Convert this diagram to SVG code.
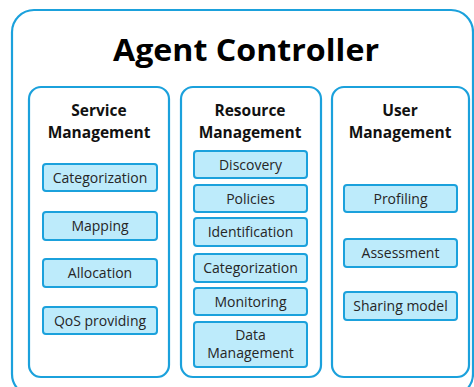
<svg xmlns="http://www.w3.org/2000/svg" width="474" height="387" viewBox="0 0 474 387">
<style>
.outer{fill:#fff;stroke:#1ba1dc;stroke-width:2.2}
.panel{fill:#fff;stroke:#1ba1dc;stroke-width:2.2}
.item{fill:#bdebfb;stroke:#1ba1dc;stroke-width:2}
.title{font-family:"Open Sans","Liberation Sans",sans-serif;font-weight:bold;font-size:31px;fill:#000;text-anchor:middle}
.ptitle{font-family:"Open Sans","Liberation Sans",sans-serif;font-weight:bold;font-size:15.5px;fill:#111;text-anchor:middle}
.label{font-family:"Open Sans","Liberation Sans",sans-serif;font-size:14px;fill:#262626;text-anchor:middle}
</style>
<rect width="474" height="387" fill="#fff"/>
<g id="agent-controller">
<rect class="outer" x="12" y="10" width="461" height="386" rx="22"/>
<text class="title" x="246" y="61" textLength="266" lengthAdjust="spacingAndGlyphs">Agent Controller</text>
</g>
<g id="service-management">
<rect class="panel" x="29" y="87" width="140" height="290" rx="12"/>
<text class="ptitle" x="99" y="116">Service</text>
<text class="ptitle" x="99" y="138">Management</text>
</g>
<g id="sm-categorization"><rect class="item" x="43" y="164" width="114" height="27" rx="3"/><text class="label" x="100" y="182.5">Categorization</text></g>
<g id="sm-mapping"><rect class="item" x="43" y="212" width="114" height="28" rx="3"/><text class="label" x="100" y="231">Mapping</text></g>
<g id="sm-allocation"><rect class="item" x="43" y="259" width="114" height="28" rx="3"/><text class="label" x="100" y="278">Allocation</text></g>
<g id="sm-qos"><rect class="item" x="43" y="307" width="114" height="27" rx="3"/><text class="label" x="100" y="325.5">QoS providing</text></g>
<g id="resource-management">
<rect class="panel" x="181" y="87" width="140" height="290" rx="12"/>
<text class="ptitle" x="250" y="116">Resource</text>
<text class="ptitle" x="250" y="138">Management</text>
</g>
<g id="rm-discovery"><rect class="item" x="194" y="151" width="113" height="27" rx="3"/><text class="label" x="250.5" y="169.5">Discovery</text></g>
<g id="rm-policies"><rect class="item" x="194" y="185" width="113" height="27" rx="3"/><text class="label" x="250.5" y="203.5">Policies</text></g>
<g id="rm-identification"><rect class="item" x="194" y="218" width="113" height="28" rx="3"/><text class="label" x="250.5" y="237">Identification</text></g>
<g id="rm-categorization"><rect class="item" x="194" y="254" width="113" height="28" rx="3"/><text class="label" x="250.5" y="273">Categorization</text></g>
<g id="rm-monitoring"><rect class="item" x="194" y="288" width="113" height="27" rx="3"/><text class="label" x="250.5" y="306.5">Monitoring</text></g>
<g id="rm-data-management"><rect class="item" x="194" y="322" width="113" height="45" rx="3"/><text class="label" x="250.5" y="340">Data</text><text class="label" x="250.5" y="358">Management</text></g>
<g id="user-management">
<rect class="panel" x="332" y="87" width="137" height="290" rx="12"/>
<text class="ptitle" x="400" y="116">User</text>
<text class="ptitle" x="400" y="138">Management</text>
</g>
<g id="um-profiling"><rect class="item" x="344" y="185" width="113" height="27" rx="3"/><text class="label" x="400.5" y="203.5">Profiling</text></g>
<g id="um-assessment"><rect class="item" x="344" y="239" width="113" height="28" rx="3"/><text class="label" x="400.5" y="258">Assessment</text></g>
<g id="um-sharing"><rect class="item" x="344" y="292" width="113" height="28" rx="3"/><text class="label" x="400.5" y="311">Sharing model</text></g>
<g id="connectors"/>
</svg>
